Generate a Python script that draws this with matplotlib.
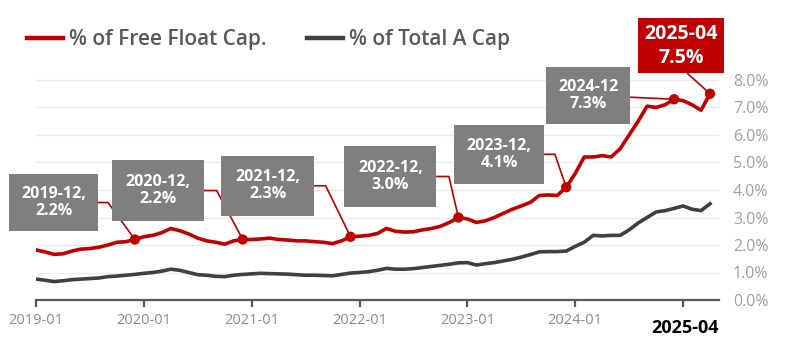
import numpy as np
import pandas as pd
import matplotlib
matplotlib.use("Agg")
import matplotlib.pyplot as plt
from matplotlib.lines import Line2D

plt.rcParams['font.family'] = ['Open Sans', 'DejaVu Sans']

# ---------------- data ----------------
months = pd.date_range("2019-01-01", "2025-04-01", freq="MS")

free_float = [1.82, 1.75, 1.66, 1.68, 1.78, 1.85, 1.87, 1.92, 2.00, 2.10, 2.12, 2.20,
              2.30, 2.35, 2.45, 2.60, 2.52, 2.40, 2.25, 2.15, 2.10, 2.03, 2.15, 2.20,
              2.20, 2.22, 2.25, 2.20, 2.18, 2.15, 2.15, 2.12, 2.10, 2.05, 2.15, 2.30,
              2.32, 2.35, 2.42, 2.60, 2.50, 2.47, 2.48, 2.55, 2.60, 2.68, 2.82, 3.00,
              2.95, 2.82, 2.88, 3.00, 3.15, 3.30, 3.42, 3.55, 3.80, 3.82, 3.80, 4.10,
              4.60, 5.20, 5.20, 5.25, 5.20, 5.50, 6.00, 6.50, 7.05, 7.00, 7.10, 7.30,
              7.25, 7.10, 6.90, 7.50]

total_a = [0.76, 0.72, 0.67, 0.70, 0.74, 0.76, 0.78, 0.80, 0.85, 0.87, 0.90, 0.93,
           0.97, 1.00, 1.05, 1.12, 1.08, 1.00, 0.92, 0.90, 0.86, 0.85, 0.90, 0.93,
           0.95, 0.97, 0.96, 0.95, 0.94, 0.92, 0.90, 0.90, 0.89, 0.88, 0.93, 0.98,
           1.00, 1.03, 1.08, 1.15, 1.12, 1.12, 1.14, 1.18, 1.22, 1.26, 1.30, 1.35,
           1.36, 1.27, 1.32, 1.36, 1.42, 1.48, 1.56, 1.65, 1.75, 1.76, 1.76, 1.78,
           1.95, 2.10, 2.35, 2.33, 2.35, 2.35, 2.55, 2.80, 3.00, 3.20, 3.25, 3.33,
           3.42, 3.30, 3.25, 3.50]

series_names = ["% of Free Float Cap.", "% of Total A Cap"]

ann_dates = ["2019-12", "2020-12", "2021-12", "2022-12", "2023-12", "2024-12"]
ann_labels = ["2019-12,\n2.2%", "2020-12,\n2.2%", "2021-12,\n2.3%",
              "2022-12,\n3.0%", "2023-12,\n4.1%", "2024-12\n7.3%"]
last_date = "2025-04"
last_label = "2025-04\n7.5%"

y_ticks = [0, 1, 2, 3, 4, 5, 6, 7, 8]
x_tick_dates = ["2019-01", "2020-01", "2021-01", "2022-01", "2023-01", "2024-01", "2025-01"]
x_tick_labels = ["2019-01", "2020-01", "2021-01", "2022-01", "2023-01", "2024-01", ""]
x_bold_label = "2025-04"

# ---------------- style ----------------
RED = '#C00000'
DARK = '#404040'
BOXGRAY = '#7F7F7F'

fig = plt.figure(figsize=(8.01, 3.55), dpi=100)
ax = fig.add_axes([36 / 801, 55 / 355, 683 / 801, 300 / 355])

x = np.arange(len(months))
labels_m = months.strftime("%Y-%m").tolist()
ff = np.array(free_float)
ta = np.array(total_a)

ax.plot(x, ta, color=DARK, lw=2.6, solid_joinstyle='round', zorder=3)
ax.plot(x, ff, color=RED, lw=2.6, solid_joinstyle='round', zorder=4)

ax.set_xlim(0, 76)
ax.set_ylim(0, 300 / 27.5)

for s in ['top', 'left', 'right']:
    ax.spines[s].set_visible(False)
ax.spines['bottom'].set_color('#595959')
ax.spines['bottom'].set_linewidth(1.6)

ax.set_yticks(y_ticks)
ax.set_yticklabels([f"{v:.1f}%" for v in y_ticks])
ax.yaxis.tick_right()
ax.tick_params(axis='y', length=0, pad=10, labelcolor='#a0a0a0', labelsize=11.5)
ax.set_axisbelow(True)
ax.yaxis.grid(True, color='#ebebeb', lw=1)

xt = [labels_m.index(d) for d in x_tick_dates]
ax.set_xticks(xt)
ax.set_xticklabels(x_tick_labels)
ax.tick_params(axis='x', length=5, width=1.6, color='#595959', pad=4,
               labelcolor='#8c8c8c', labelsize=10.5)

ax.annotate(x_bold_label, xy=(xt[-1], 0), xycoords=('data', 'axes fraction'),
            xytext=(2, -28), textcoords='offset pixels', ha='center', va='center',
            fontsize=13, fontweight='bold', color='black', annotation_clip=False)

# annotation layout (box offsets in pixels, connector angles)
offsets = [(-81, 37), (-85, 49), (-83, 51), (-68, 41), (-67, 33), (-86, 4)]
angles = [126, 118, 116, 103, 109, None]
pads = [0.75, 0.85, 0.85, 0.85, 0.8, 0.75]

idx = [labels_m.index(d) for d in ann_dates]
li = labels_m.index(last_date)
ax.scatter(idx + [li], ff[idx + [li]], s=55, color=RED, zorder=5, edgecolors='none')

for k, (i, lab, off, ang, pd_) in enumerate(zip(idx, ann_labels, offsets, angles, pads)):
    if ang is None:
        cs = 'arc3,rad=0'
    else:
        cs = f'angle,angleA=0,angleB={ang},rad=0'
    ax.annotate(lab, xy=(i, ff[i]), xytext=off, textcoords='offset pixels',
                ha='center', va='center', color='white', fontsize=11.5,
                fontweight='bold', linespacing=1.1,
                bbox=dict(boxstyle=f'square,pad={pd_}', fc=BOXGRAY, ec='none'),
                arrowprops=dict(arrowstyle='-', color=RED, lw=1.2, shrinkA=0,
                                shrinkB=0, connectionstyle=cs),
                annotation_clip=False, zorder=6 + k)

ax.annotate(last_label, xy=(li, ff[li]), xytext=(-29, 48), textcoords='offset pixels',
            ha='center', va='center', color='white', fontsize=14,
            fontweight='bold', linespacing=1.25,
            bbox=dict(boxstyle='square,pad=0.3', fc=RED, ec='none'),
            arrowprops=dict(arrowstyle='-', color=RED, lw=1.2, shrinkA=0,
                            shrinkB=0, relpos=(0.5, 0), connectionstyle='arc3,rad=0'),
            annotation_clip=False, zorder=20)

handles = [Line2D([], [], color=RED, lw=3.2), Line2D([], [], color=DARK, lw=3.2)]
leg = fig.legend(handles, series_names, loc='center left',
                 bbox_to_anchor=(27 / 801, 1 - 40 / 355), ncol=2, frameon=False,
                 fontsize=15, handlelength=1.75, handletextpad=0.25,
                 columnspacing=1.95, borderpad=0, borderaxespad=0)
for t in leg.get_texts():
    t.set_color('#595959')
    t.set_fontweight('semibold')

fig.savefig("out.png", dpi=100)
